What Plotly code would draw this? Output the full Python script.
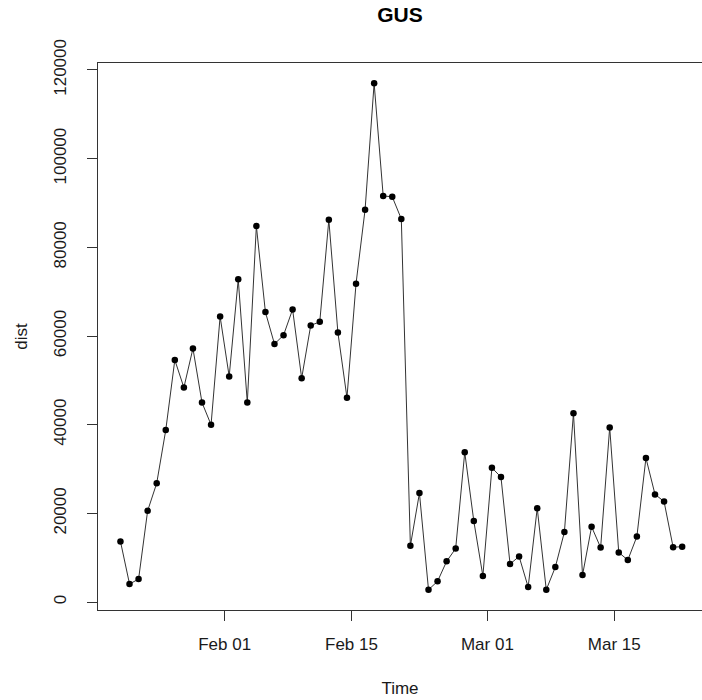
import pandas as pd
import plotly.graph_objects as go

start_time = "2020-01-20 12:00"
n_days = 63
dates = pd.date_range(start=start_time, periods=n_days, freq="D")

dist = [
    13700, 4100, 5200, 20600, 26800, 38800, 54600, 48400, 57200, 45000,
    40000, 64400, 50900, 72800, 45000, 84800, 65400, 58200, 60200, 66000,
    50500, 62400, 63200, 86200, 60800, 46100, 71800, 88500, 117000, 91600,
    91400, 86400, 12700, 24600, 2800, 4700, 9200, 12100, 33800, 18300,
    5900, 30300, 28200, 8600, 10300, 3400, 21200, 2800, 7900, 15800,
    42600, 6100, 17000, 12300, 39400, 11200, 9500, 14800, 32500, 24300,
    22700, 12400, 12500,
]

x_tickvals = ["2020-02-01", "2020-02-15", "2020-03-01", "2020-03-15"]
x_ticktext = ["Feb 01", "Feb 15", "Mar 01", "Mar 15"]
y_tickvals = [0, 20000, 40000, 60000, 80000, 100000, 120000]
y_ticktext = ["0", "20000", "40000", "60000", "80000", "100000", "120000"]

ymin, ymax = min(dist), max(dist)
pad = 0.04 * (ymax - ymin)

fig = go.Figure()
fig.add_trace(go.Scatter(
    x=dates, y=dist, mode="lines+markers",
    line=dict(color="#333333", width=1),
    marker=dict(color="black", size=6.5, symbol="circle"),
    showlegend=False,
))

font_family = "Liberation Sans, Arial, sans-serif"
fig.update_layout(
    width=702, height=700,
    margin=dict(l=98, r=0, t=63, b=90),
    paper_bgcolor="white", plot_bgcolor="white",
    font=dict(family=font_family, size=17, color="#1a1a1a"),
    title=dict(text="<b>GUS</b>", x=0.5, xref="paper", xanchor="center",
               y=1 - 15 / 700, yref="container", yanchor="middle",
               font=dict(size=21, color="black")),
)
fig.update_xaxes(
    range=["2020-01-18 00:30", "2020-03-24 16:30"],
    tickvals=x_tickvals, ticktext=x_ticktext,
    showgrid=False, zeroline=False,
    showline=True, linecolor="#333333", linewidth=1, mirror=True,
    ticks="outside", ticklen=10, tickcolor="#333333",
    ticklabelstandoff=9,
    title=dict(text="Time", standoff=28, font=dict(size=17)),
)
fig.update_yaxes(
    range=[ymin - pad, ymax + pad],
    tickvals=y_tickvals, ticktext=y_ticktext, tickangle=-90,
    showgrid=False, zeroline=False,
    showline=True, linecolor="#333333", linewidth=1, mirror=False,
    ticks="outside", ticklen=10, tickcolor="#333333",
    ticklabelstandoff=14,
    title=dict(text="dist", standoff=19, font=dict(size=17)),
)

fig.write_html("out.html")
